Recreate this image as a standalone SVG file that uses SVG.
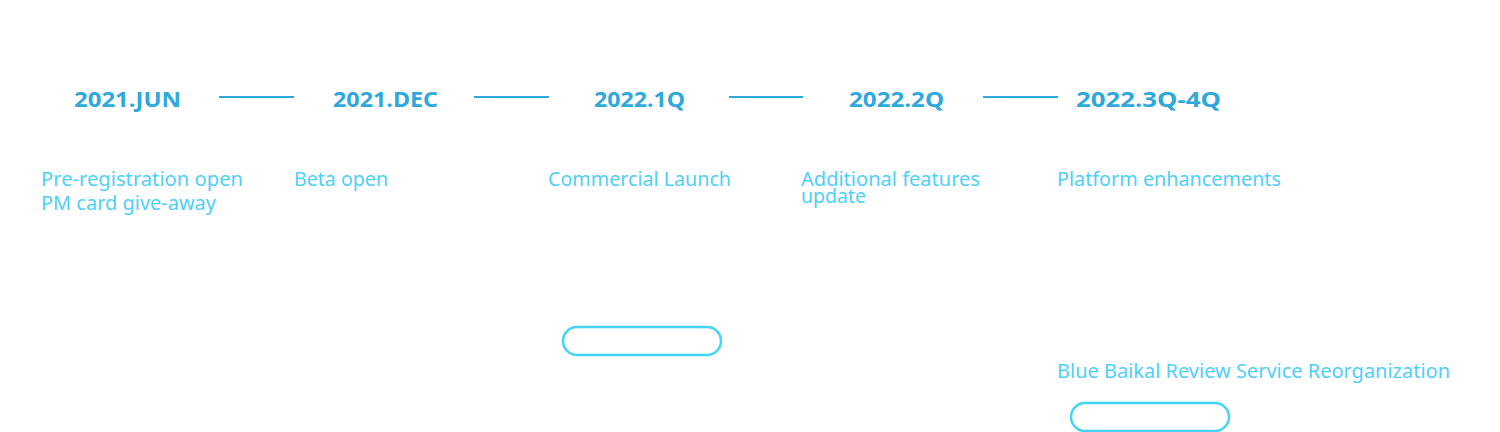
<svg xmlns="http://www.w3.org/2000/svg" width="1500" height="432" viewBox="0 0 1500 432">
<style>
.hd{font-family:"Noto Sans","Liberation Sans",sans-serif;font-weight:700;font-size:21px;fill:#2fa8dc}
.ds{font-family:"Noto Sans","Liberation Sans",sans-serif;font-size:19px;fill:#4fd0f8}
.ln{stroke:#2fa8dc;stroke-width:2}
.pill{fill:none;stroke:#44d4f8;stroke-width:2.5}
</style>
<rect width="1500" height="432" fill="#ffffff"/>
<g id="connectors">
<line class="ln" x1="219" y1="97" x2="294" y2="97"/>
<line class="ln" x1="474" y1="97" x2="549" y2="97"/>
<line class="ln" x1="729" y1="97" x2="803" y2="97"/>
<line class="ln" x1="983" y1="97" x2="1058" y2="97"/>
</g>
<g id="node-2021jun">
<text class="hd" x="74" y="107" textLength="107" lengthAdjust="spacingAndGlyphs">2021.JUN</text>
<text class="ds" x="41" y="186" textLength="202" lengthAdjust="spacingAndGlyphs">Pre-registration open</text>
<text class="ds" x="41" y="210" textLength="175" lengthAdjust="spacingAndGlyphs">PM card give-away</text>
</g>
<g id="node-2021dec">
<text class="hd" x="333" y="107" textLength="105" lengthAdjust="spacingAndGlyphs">2021.DEC</text>
<text class="ds" x="294" y="186" textLength="94" lengthAdjust="spacingAndGlyphs">Beta open</text>
</g>
<g id="node-2022-1q">
<text class="hd" x="594" y="107" textLength="91" lengthAdjust="spacingAndGlyphs">2022.1Q</text>
<text class="ds" x="548" y="186" textLength="183" lengthAdjust="spacingAndGlyphs">Commercial Launch</text>
<rect class="pill" x="563" y="327" width="158" height="28" rx="14"/>
</g>
<g id="node-2022-2q">
<text class="hd" x="849" y="107" textLength="95" lengthAdjust="spacingAndGlyphs">2022.2Q</text>
<text class="ds" x="801" y="186" textLength="179" lengthAdjust="spacingAndGlyphs">Additional features</text>
<text class="ds" x="801" y="203" textLength="65" lengthAdjust="spacingAndGlyphs">update</text>
</g>
<g id="node-2022-3q4q">
<text class="hd" x="1076" y="107" textLength="145" lengthAdjust="spacingAndGlyphs">2022.3Q-4Q</text>
<text class="ds" x="1057" y="186" textLength="224" lengthAdjust="spacingAndGlyphs">Platform enhancements</text>
<text class="ds" x="1057" y="378" textLength="393" lengthAdjust="spacingAndGlyphs">Blue Baikal Review Service Reorganization</text>
<rect class="pill" x="1071" y="403" width="158" height="28" rx="14"/>
</g>
</svg>
